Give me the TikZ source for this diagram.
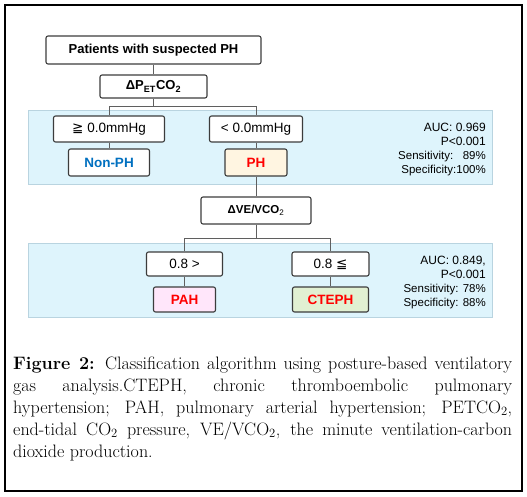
\documentclass[tikz,border=0pt]{standalone}
\usepackage{fontspec}
\newfontfamily\boxfont{Liberation Sans}
\newfontfamily\symfont{DejaVu Sans}
\definecolor{bandfill}{RGB}{222,244,252}
\definecolor{banddraw}{RGB}{185,212,224}
\definecolor{boxdraw}{RGB}{60,60,60}
\definecolor{linegray}{RGB}{95,95,95}
\definecolor{phfill}{RGB}{255,245,225}
\definecolor{pahfill}{RGB}{255,230,250}
\definecolor{ctephfill}{RGB}{225,240,210}
\definecolor{nonphblue}{RGB}{0,112,192}
\definecolor{resred}{RGB}{255,0,0}
\begin{document}
\begin{tikzpicture}[x=1pt,y=-1pt,
  box/.style={draw=boxdraw,line width=1.1pt,rounded corners=2pt,fill=white,inner sep=0pt,
    font=\boxfont\fontsize{13.5}{15}\selectfont},
  band/.style={draw=banddraw,line width=0.8pt,fill=bandfill,inner sep=0pt,minimum width=464pt,minimum height=74pt},
  conn/.style={draw=linegray,line width=0.9pt},
  stat/.style={anchor=base east,inner sep=0pt,font=\boxfont\fontsize{12}{14}\selectfont},
  statsm/.style={anchor=base east,inner sep=0pt,font=\boxfont\fontsize{11.5}{14}\selectfont},
  capline/.style={anchor=base west,inner sep=0pt,font=\fontsize{18}{22}\selectfont}]
\useasboundingbox (0,0) rectangle (527,496);
\fill[white] (0,0) rectangle (527,496);
\draw[line width=1.5pt,black] (5,5) rectangle (522,491);

% bands
\node[band] (band1) at (260,147) {};
\node[band] (band2) at (260,280) {};

% nodes
\node[box,minimum width=215pt,minimum height=28pt,font=\boxfont\bfseries\fontsize{13}{15}\selectfont] (pat) at (153.5,50) {Patients with suspected PH};
\node[box,minimum width=107pt,minimum height=23pt,font=\boxfont\bfseries\fontsize{13}{15}\selectfont] (dp) at (153.5,86.5) {ΔP\textsubscript{ET}CO\textsubscript{2}};
\node[box,minimum width=111pt,minimum height=26pt] (ge) at (109,129) {{\symfont ≧} 0.0mmHg};
\node[box,minimum width=93pt,minimum height=26pt] (lt) at (256,129) {< 0.0mmHg};
\node[box,minimum width=81pt,minimum height=27pt,text=nonphblue,font=\boxfont\bfseries\fontsize{13.5}{15}\selectfont] (nonph) at (109,162.5) {Non-PH};
\node[box,fill=phfill,minimum width=62pt,minimum height=27pt,text=resred,font=\boxfont\bfseries\fontsize{13.5}{15}\selectfont] (ph) at (256,162.5) {PH};
\node[box,minimum width=110pt,minimum height=27pt,font=\boxfont\bfseries\fontsize{11.5}{14}\selectfont] (dve) at (256,210.5) {ΔVE/VCO{\mdseries\textsubscript{2}}};
\node[box,minimum width=76pt,minimum height=24pt] (g08) at (184.5,264) {0.8 >};
\node[box,minimum width=77pt,minimum height=24pt] (l08) at (330.5,264) {0.8 {\symfont ≦}};
\node[box,fill=pahfill,minimum width=62pt,minimum height=25pt,text=resred,font=\boxfont\bfseries\fontsize{13.5}{15}\selectfont] (pah) at (184.5,299.5) {PAH};
\node[box,fill=ctephfill,minimum width=76pt,minimum height=25pt,text=resred,font=\boxfont\bfseries\fontsize{13.5}{15}\selectfont] (cteph) at (330.5,299.5) {CTEPH};

% connectors
\coordinate (j1) at (153.5,106);
\coordinate (j2) at (256,238);
\draw[conn] (pat.south) -- (dp.north);
\draw[conn] (dp.south) -- (j1);
\draw[conn] (j1) -| (ge.north);
\draw[conn] (j1) -| (lt.north);
\draw[conn] (ge.south) -- (nonph.north);
\draw[conn] (lt.south) -- (ph.north);
\draw[conn] (ph.south) -- (dve.north);
\draw[conn] (dve.south) -- (j2);
\draw[conn] (j2) -| (g08.north);
\draw[conn] (j2) -| (l08.north);
\draw[conn] (g08.south) -- (pah.north);
\draw[conn] (l08.south) -- (cteph.north);

% statistics
\node[stat] (s1a) at (486,131.5) {AUC: 0.969};
\node[stat] (s1b) at (486,145.5) {P<0.001};
\node[statsm] (s1c) at (486,159.5) {Sensitivity:\ \ \ 89\%};
\node[statsm] (s1d) at (486,173.5) {Specificity:100\%};
\node[stat] (s2a) at (486,264.5) {AUC: 0.849,};
\node[stat] (s2b) at (486,278.5) {P<0.001};
\node[statsm] (s2c) at (486,292.5) {Sensitivity: 78\%};
\node[statsm] (s2d) at (486,306.5) {Specificity: 88\%};

% caption
\node[capline] (cap1) at (13,369) {\makebox[499pt][s]{\textbf{Figure 2:} Classification algorithm using posture-based ventilatory}};
\node[capline] (cap2) at (13,391) {\makebox[499pt][s]{gas analysis.CTEPH, chronic thromboembolic pulmonary}};
\node[capline] (cap3) at (13,413) {\makebox[499pt][s]{hypertension; PAH, pulmonary arterial hypertension; PETCO\textsubscript{2},}};
\node[capline] (cap4) at (13,435) {\makebox[499pt][s]{end-tidal CO\textsubscript{2} pressure, VE/VCO\textsubscript{2}, the minute ventilation-carbon}};
\node[capline] (cap5) at (13,457) {dioxide production.};
\end{tikzpicture}
\end{document}
